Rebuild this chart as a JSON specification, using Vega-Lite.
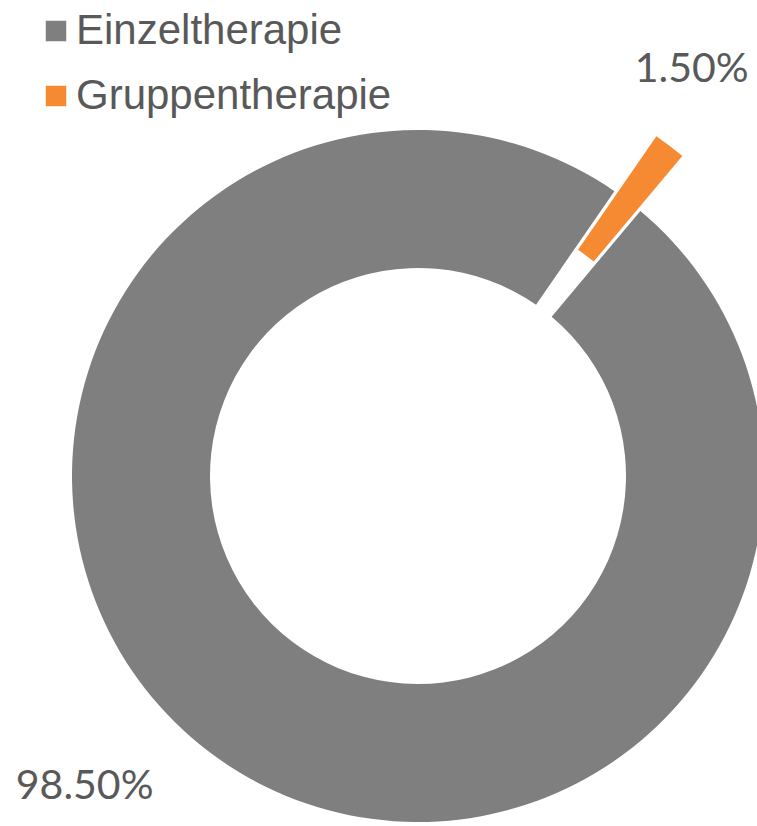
{
  "$schema": "https://vega.github.io/schema/vega-lite/v6.json",
  "autosize": {"type": "none"},
  "width": 678,
  "height": 692,
  "padding": {"left": 79, "top": 130, "right": 0, "bottom": 4},
  "background": "white",
  "config": {"view": {"stroke": null}},
  "data": {
    "values": [
      {"Kategorie": "Einzeltherapie", "Anteil": 0.985},
      {"Kategorie": "Gruppentherapie", "Anteil": 0.015}
    ]
  },
  "encoding": {
    "theta": {"field": "Anteil", "type": "quantitative", "stack": true, "scale": {"range": [0.698, 6.981]}},
    "order": {"field": "Kategorie", "sort": "ascending"}
  },
  "layer": [
    {
      "mark": {"type": "arc", "innerRadius": 208, "outerRadius": 346},
      "encoding": {
        "color": {
          "field": "Kategorie",
          "type": "nominal",
          "scale": {"domain": ["Einzeltherapie", "Gruppentherapie"], "range": ["#7F7F7F", "#F68A33"]},
          "legend": {
            "title": null,
            "orient": "none",
            "legendX": -44,
            "legendY": -120,
            "symbolType": "square",
            "symbolSize": 420,
            "symbolStrokeWidth": 0,
            "labelFont": "Liberation Sans",
            "labelFontSize": 42,
            "labelColor": "#595959",
            "labelLimit": 500,
            "labelOffset": -1,
            "rowPadding": 23,
            "padding": 0
          }
        },
        "opacity": {"condition": {"test": "datum.Kategorie === 'Gruppentherapie'", "value": 0}, "value": 1}
      }
    },
    {
      "mark": {"type": "arc", "innerRadius": 208, "outerRadius": 346, "xOffset": 42, "yOffset": -55},
      "encoding": {
        "color": {"field": "Kategorie", "type": "nominal"},
        "opacity": {"condition": {"test": "datum.Kategorie === 'Gruppentherapie'", "value": 1}, "value": 0}
      }
    },
    {
      "mark": {"type": "text", "radius": 456, "thetaOffset": 0.169, "font": "Lato", "fontSize": 41, "color": "#595959", "align": "center", "baseline": "middle"},
      "encoding": {
        "detail": {"field": "Kategorie"},
        "text": {"field": "Anteil", "type": "quantitative", "format": ".2%"},
        "opacity": {"condition": {"test": "datum.Kategorie === 'Einzeltherapie'", "value": 1}, "value": 0}
      }
    },
    {
      "mark": {"type": "text", "radius": 490, "thetaOffset": -0.058, "font": "Lato", "fontSize": 41, "color": "#595959", "align": "center", "baseline": "middle"},
      "encoding": {
        "detail": {"field": "Kategorie"},
        "text": {"field": "Anteil", "type": "quantitative", "format": ".2%"},
        "opacity": {"condition": {"test": "datum.Kategorie === 'Gruppentherapie'", "value": 1}, "value": 0}
      }
    }
  ]
}
